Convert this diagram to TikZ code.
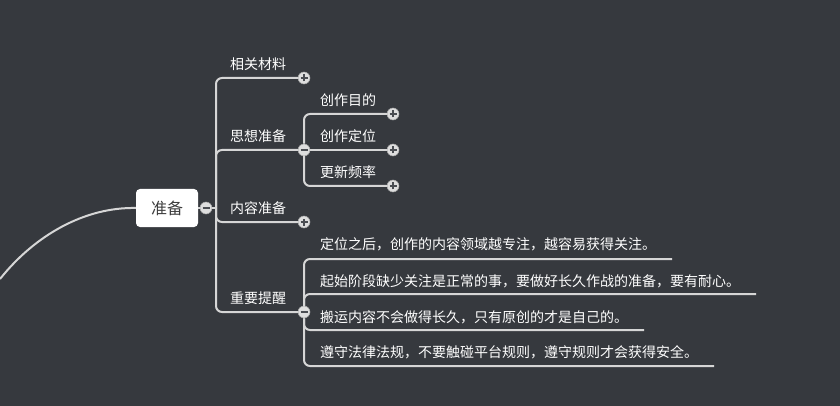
\documentclass[tikz,border=0pt]{standalone}
\usepackage{fontspec}
\setmainfont{Noto Sans CJK SC}
\usepackage{xcolor}
\usetikzlibrary{
    positioning,
    calc
}
\definecolor{bgdark}{HTML}{36393E}
\definecolor{linegray}{HTML}{D6D6D6}
\definecolor{knobfill}{HTML}{DEDEDE}
\definecolor{knobsign}{HTML}{4A4D52}
\definecolor{roottext}{HTML}{3C3C3C}
\tikzset{
    wire/.style = {draw=linegray, line width=2pt, rounded corners=6pt}
  }
\tikzset{
    knob/.style = {circle, fill=knobfill, draw=knobfill!75!black, line width=0.5pt,
      minimum size=12pt, inner sep=0pt}
  }
\tikzset{
    knobminus/.style = {knob, path picture={
      \draw[knobsign, line width=2pt]
        ([xshift=-3.5pt]path picture bounding box.center) -- ([xshift=3.5pt]path picture bounding box.center);}}
  }
\tikzset{
    knobplus/.style = {knob, path picture={
      \draw[knobsign, line width=2pt]
        ([xshift=-3.5pt]path picture bounding box.center) -- ([xshift=3.5pt]path picture bounding box.center)
        ([yshift=-3.5pt]path picture bounding box.center) -- ([yshift=3.5pt]path picture bounding box.center);}}
  }

\begin{document}
\begin{tikzpicture}[x=1pt,y=-1pt,
    topic/.style={text=white,font=\fontsize{14}{16}\selectfont,inner sep=0pt,anchor=west},
    rootbox/.style={fill=white,rounded corners=4pt,minimum width=62pt,minimum height=38pt,
      inner sep=0pt,text=roottext,font=\fontsize{16}{18}\selectfont}]
				\useasboundingbox (0,0) rectangle (840,406);
				\fill[bgdark] (0,0) rectangle (840,406);
				% root
				\node at (167,208) [rootbox] (root) {准备};
				\coordinate (tail) at (0,279);
				\draw[wire] (tail) .. controls (35,235) and (85,207) .. (root.west);
				\node at (206,208) [knobminus] (m0) {};
				\coordinate (j0) at (216,208);
				% first level
				\node at (304,78) [knobplus] (k1) {};
				\node at (304,150) [knobminus] (k2) {};
				\node at (304,222) [knobplus] (k3) {};
				\node at (304,312) [knobminus] (k4) {};
				\node at (230,64) [topic] (t1) {相关材料};
				\node at (230,136) [topic] (t2) {思想准备};
				\node at (230,208) [topic] (t3) {内容准备};
				\node at (230,298) [topic] (t4) {重要提醒};
				% second level, 思想准备
				\node at (393,114) [knobplus] (k21) {};
				\node at (393,150) [knobplus] (k22) {};
				\node at (393,186) [knobplus] (k23) {};
				\node at (320,100) [topic] (t21) {创作目的};
				\node at (320,136) [topic] (t22) {创作定位};
				\node at (320,172) [topic] (t23) {更新频率};
				% second level, 重要提醒
				\coordinate (e41) at (672,259);
				\coordinate (e42) at (756,294);
				\coordinate (e43) at (644,330);
				\coordinate (e44) at (714,366);
				\node at (320,244) [topic] (t41) {定位之后，创作的内容领域越专注，越容易获得关注。};
				\node at (320,281) [topic] (t42) {起始阶段缺少关注是正常的事，要做好长久作战的准备，要有耐心。};
				\node at (320,317) [topic] (t43) {搬运内容不会做得长久，只有原创的才是自己的。};
				\node at (320,352) [topic] (t44) {遵守法律法规，不要触碰平台规则，遵守规则才会获得安全。};
				% connectors
				\draw[wire] (root) -- (m0);
				\draw[wire] (m0) -- (j0);
				\draw[wire] (j0) |- (k1);
				\draw[wire] (j0) |- (k2);
				\draw[wire] (j0) |- (k3);
				\draw[wire] (j0) |- (k4);
				\draw[wire] (k2) |- (k21);
				\draw[wire] (k2) -- (k22);
				\draw[wire] (k2) |- (k23);
				\draw[wire] (k4) |- (e41);
				\draw[wire] (k4) |- (e42);
				\draw[wire] (k4) |- (e43);
				\draw[wire] (k4) |- (e44);
			\end{tikzpicture}
\end{document}
